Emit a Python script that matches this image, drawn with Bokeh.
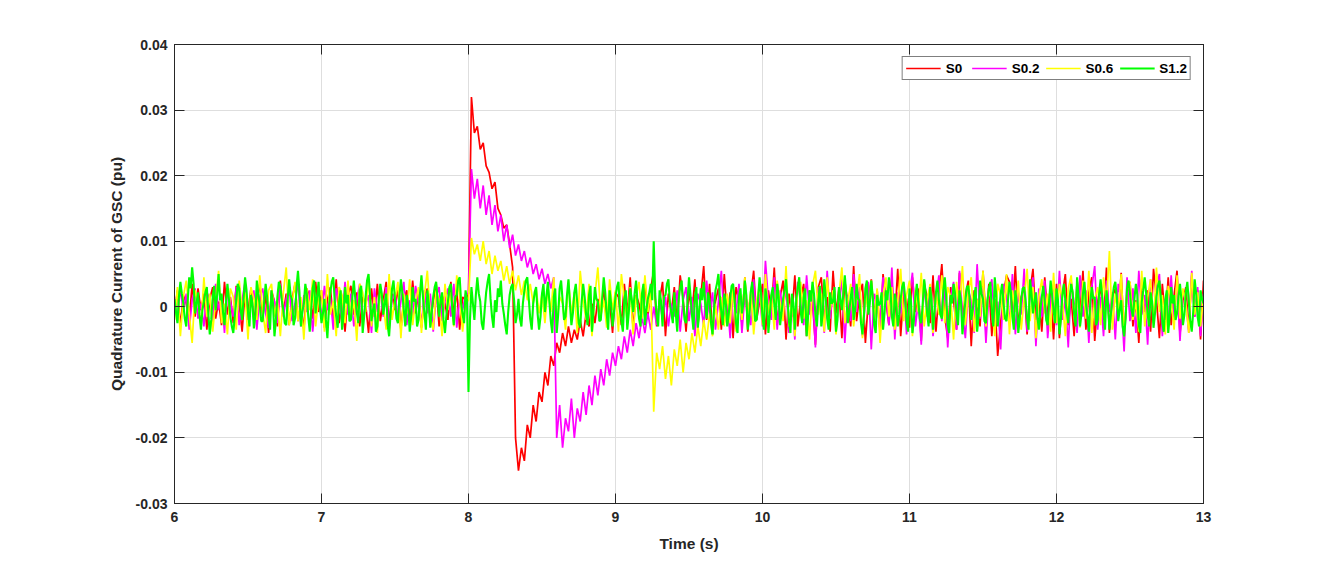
import numpy as np
from bokeh.plotting import figure
from bokeh.models import Range1d, LinearAxis, FixedTicker, Legend, LegendItem, CustomJSTickFormatter
from bokeh.embed import file_html
from bokeh.resources import INLINE

# ---- data (values in units of 1e-4 pu, evenly sampled from 6 s to 13 s) ----
series_names = ["S0", "S0.2", "S0.6", "S1.2"]
series_colors = ["#FF0000", "#FF00FF", "#FFFF00", "#00FF00"]
series_widths = [1.7, 1.7, 1.7, 2.1]

s0 = [
    -10, 25, -30, 18, 5, -22, 35, -15, 28, -5,
    20, -35, 12, 30, -18, 8, -28, 38, -12, 15,
    -25, 32, 5, -38, 22, -8, 28, -20, 10, 35,
    -15, 18, -40, 25, 8, -30, 40, -10, 20, -28,
    12, 35, -22, 5, -35, 28, 15, -18, 38, -8,
    25, -32, 10, 30, -20, 42, -25, 8, -38, 18,
    32, -12, 22, -30, 15, 5, -40, 28, -15, 35,
    -22, 10, 38, -28, 20, -5, 30, -35, 12, 25,
    -18, 40, -10, 22, -32, 15, 28, -25, 8, 35,
    -30, 18, 5, -20, 38, -12, 25, -35, 15, 10,
    20, 320, 265, 275, 240, 250, 215, 205, 180, 190,
    150, 140, 120, 125, 95, 60, -200, -250, -215, -235,
    -180, -200, -150, -175, -130, -145, -100, -120, -75, -90,
    -55, -70, -40, -60, -30, -55, -35, -50, -20, -45,
    -10, -30, 5, -25, 12, -15,
    30, -20, 8, -40, 22, 15, -28, 35, -10, 45,
    -35, 18, 5, -22, 40, -15, 28, 55, -30, 10,
    38, -45, 20, -8, 30, -25, 48, 12, -38, 25,
    -12, 42, -30, 15, 62, -20, 35, -42, 8, 28,
    -35, 50, -15, 22, -48, 30, 10, -25, 45, -38, 18, 55, -20, 8,
    35, -42, 25, -10, 60, -28, 15, 40, -50, 20,
    -15, 48, -30, 12, 35, -45, 25, 8, -58, 30,
    45, -20, 15, -38, 55, -10, 28, -48, 40, 5,
    -30, 62, -22, 18, 35, -55, 10, 42, -15, 25,
    -40, 50, 8, -28, 38, -18, 58, -45, 20, 12,
    -32, 45, -8, 28, -52, 35, 15, -25, 48, -38,
    22, 65, -15, -48, 30, 10, -35, 52, -22, 18,
    40, -60, 25, 8, -30, 55, -18, 35, -45, 12,
    -75, -25, 20, 48, 38, -10, 62, -32, 15, 30,
    -42, 25, 58, -20, 10, -38, 45, -15, 28, -50,
    35, -48, 18, 50, -28, 12, -45, 40, -10, 55,
    -35, 22, 45, -52, 8, 30, -20, 60, -40, 15,
    28, -15, 52, -45, 20, 38, -30, 10, -55, 42,
    -8, 25, -38, 58, 12, -48, 35, -20, 45, -28,
    18, 55, -42, 10, 30, -35, 48, -15, 25, -50, 40,
]

s02 = [
    15, -22, 30, -8, 20, -35, 10, 28, -18, 5,
    -30, 22, 12, -25, 35, -5, 18, -40, 25, 8,
    -15, 30, -28, 10, 38, -20, 5, 25, -35, 15,
    28, -10, -32, 20, 8, -25, 35, -15, 12, 30,
    -22, 5, 40, -30, 18, -8, 25, -38, 10, 22,
    -18, 32, -5, 15, -35, 28, 8, -22, 38, -12,
    20, -30, 10, 35, -25, 5, 18, -40, 28, -8,
    25, -15, 30, -35, 12, 22, -20, 8, 38, -28,
    10, -18, 32, 5, -30, 25, -10, 20, -38, 15,
    30, -22, 8, 28, -15, 35, -32, 12, -5, 20,
    20, 210, 165, 195, 150, 185, 140, 170, 125, 155,
    115, 140, 100, 125, 90, 110, 78, 95, 70, 85,
    60, 75, 50, 65, 42, 58, 35, 50, 28, 45,
    -200, -150, -215, -170, -190, -140, -200, -155, -175, -130,
    -165, -120, -150, -105, -135, -95, -120, -80, -105, -70,
    -90, -60, -80, -45, -70, -35, -60, -25, -48, -15,
    -40, -10, -35, 0, -28, 10, -20, 15, -30, 5, -15,
    25, -38, 10, 30, -22, 15, -45, 20, 5, -30,
    40, -12, 22, -35, 8, 55, -25, 12, -48, 28,
    -10, 35, -40, 18, 5, -28, 42, -15, 20,
    -30, 70, 10, -20, 45, -35, 25, -8, 30, -40,
    15, -50, 38, 5, -28, 48, -12, 22, -62, 30,
    10, -40, 55, -18, 25, -35, 8, 42, -55, 18,
    -22, 50, -8, 30, -45, 12, 38, -65, 20, 5,
    -35, 45, 15, -28, 60, -50, 22, -10, 35, -42,
    18, 52, -30, 8, -58, 40, -15, 25, -45, 12,
    48, -22, 30, -62, 15, 38, -35, 55, -8, -48,
    25, 10, -40, 65, -18, 30, -55, 20, 42, -30,
    8, -65, 35, 15, -25, 50, -42, 22, -12, 58,
    -38, 18, 45, -60, 28, -15, 40, -48, 10, 35,
    -28, 55, -20, 12, -62, 38, 5, -40, 48, -15,
    25, -55, 30, 62, -35, 15, -45, 40, -8, 22,
    -50, 35, 10, -68, 45, -22, 28, -40, 55, -12,
    18, -58, 42, -25, 30, 50, -45, 12, -30, 48,
    -20, 38, -52, 25, 8, -40, 55, -15, 30, -45, 20,
]

s06 = [
    -20, 30, -45, 15, 40, -10, -55, 25, 8, -30,
    45, -15, 20, -38, 10, 55, -25, 5, -42, 28,
    15, -35, 40, -5, 22, -50, 30, 12, -20, 48,
    -8, -40, 25, 35, -15, 10, -45, 20, 60, -28,
    5, 38, -22, 15, -50, 28, -5, 42, -30, 12,
    25, -38, 50, -12, 8, -45, 30, 18, -25, 40,
    -18, 10, -52, 35, 22, -8, 45, -30, 15, -40,
    28, 5, -35, 50, -20, 12, 38, -48, 20, -10,
    42, -28, 8, 30, -40, 18, 55, -15, -35, 25,
    10, -45, 35, -5, 22, -30, 48, 15, -38, 5,
    10, 105, 80, 95, 70, 100, 65, 85, 50, 78,
    55, 70, 40, 62, 35, 55, 25, 48, 18, 40,
    10, 35, 5, 28, -10, 20,
    -25, 30, -8, 45, -30, 15, 5, -35, 40, -12,
    22, -40, 55, 8, -20, 35, -45, 18, 60, -15,
    10, -32, 42, -5, 25, -38, 50, 12, -22, 30,
    -42, 15, 38, -18, 48, -8, 25,
    -160, -70, -95, -60, -110, -75, -120, -65, -90, -50,
    -100, -55, -80, -40, -70, -30, -60, -20, -50, -10,
    -45, 5, -35, 15, -30, 20, -25,
    30, -38, 10, -20, 45, -15, 25, -42, 8, 35,
    -28, 50, -10, 18, -35, 40, 5, -22, 62, -30,
    15, -45, 28, 38, -18, 10, -50, 32, 55, -12,
    20, -38, 45, -5, 25, -42, 18, 60, -25, 8,
    35, -30, 12, 50, -48, 22, -10, 40, -20, 28,
    -55, 15, 45, -15, 30, -35, 8, 58, -22, 18,
    40, -45, 25, -8, 52, -30, 10, 35, -40, 20,
    -12, 48, -25, 30, 15, -50, 38, -5, 62, -28,
    22, 45, -38, 10, -15, 55, -30, 28, 8, -45,
    35, 18, -20, 50, -42, 25, -8, 40, -35, 12,
    58, -22, 30, -48, 15, 42, -10, 20, -38, 52,
    -25, 35, 10, -45, 28, 48, -15, 22, -32, 40,
    -18, 55, -40, 12, 30, -28, 45, 5, 85, -35,
    20, -12, 50, -45, 25, 38, -20, 8, -38, 55,
    -30, 15, 42, -25, 60, -8, 18, -42, 32, 10,
    -35, 48, -18, 28, 5, -40, 52, -12, 22, -30, 15,
]

s12 = [
    12, -8, -25, 15, 38, 20, 5, -18, -30, 10, 45, 28, 60, 35, -10, 5, 22, -12, -35, -5,
    8, 22, 30, -10, -42, -20, 15, 32, -5, 18, 50, 10, 20, -8, -28, 5, 35, 12, -15, -30,
    -40, -15, 10, 35, 28, -5, -20, 12, 45, 25, -8, -30, 18, 5, -33, -12, 40, 20, 2, -22,
    -22, 8, 35, 15, -12, -35, 25, 5, -45, -20, 15, 38, 30, 10, -5, -25, -28, 12, 42, 18,
    10, -28, -18, 30, 55, 22, -30, -8, 5, 35, 20, -15, -38, -5, 28, 40, -10, 15, 38, 0,
    -25, -10, 12, -20, -48, -5, 22, 38, 45, 10, -15, -32, 8, 25, -35, -12, 30, 5, 18, -22,
    -20, 15, 40, 12, -8, -25, 25, 32, -40, -15, 15, 40, 50, 18, -22, -5, 5, -38, -30, 10,
    35, 20, -12, 5, 20, -28, -45, -10, 28, 40, 10, -18, -25, 15, 42, 22, -5, -30, 18, 2,
    -38, -15, 30, 8, 12, -30, -20, 20, 48, 15, -10, -35, 25, 5, -32, -8, 15, 30, 38, 10,
    -15, 10, 22, -20, -40, -12, 8, 30, 35, -5, -28, 15, 18, 40, 45, 5, -12, -25, 25, 10,
    -130, -20,
    30, 5, -20, 18, 45, 20, 8, -25, -35, -5, 22, 38, 50, 12, -15, -32, 10, -8,
    28, 15, 40, 5, -10, -28, -42, -8, 18, 30, 35, 10, -25, -12, 12, -18, -30, 5, 25, 40,
    45, 12, -18, -35, 5, 22, 30, -10, -35, -15, 20, 35, -8, 15, 38, 8, -22, -40, 15, 28,
    -40, -12, 28, 40, 10, -20, -15, 18, 42, 5, -28, -10, 22, 35, 5, -25, -32, 8, 35, 15,
    -12, -28, 18, 32, -38, -5, 30, 12, 8, -22, -20, 15, 45, 22, -10, -35, 25, 5, -30, -8,
    15, 30, 38, -5, -22, -38, 10, 25, -35, -10, 28, 12, -8, 20, 40, 5, -18, -30, 20, 35,
    -28, -5, 12, 22, 35, 10, 100, 20, -15, -30, 25, 8, -30, 15, 18, 35, 42, 5, -10, -25,
    22, -10, -38, 12, 30, 40, 5, -20, -25, 8, 45, 18, -12, -35, 15, 30, -32, -8, 28, 10,
    38, 5, -18, 22, 10, -25, -42, -5, 25, 35, 50, 15, -8, -28, 20, 8, -30, -12, 12, 32,
    35, 10, -25, -40, 15, 28, -10, 5, 40, 18, -35, -15, 22, 38, 8, -22, -20, 12, 45, 20,
    -15, -35, 28, 10, -40, -12, 18, 30, 5, -20, 35, 15, -28, -8, 12, 25, 42, 10, -22, -40,
    20, 5, -35, 12, 30, 45, -8, -25, 15, 28, -45, -15, 25, 8, 38, 20, -12, -30, 10, 32,
    -30, -10, 42, 15, -18, -35, 22, 5, 8, 30, -38, -20, 30, 12, -5, 20, 48, 18, -25, -8,
    15, 30, -20, -5, 35, 12, 10, -25, -42, -15, 28, 40, -12, 5, 40, 15, -28, -40, 18, 2,
    5, 22, -35, -10, 25, 10, 45, 28, -15, -30, 20, 5, -30, -12, 12, 30, 38, 15, -22, -38,
    28, 8, -40, -20, 15, 35, 8, -18, -25, 5, 42, 20, -10, -30, 30, 12, -35, -8, 22, 40,
    10, -12, -18, 25, 45, 15, -28, -40, 18, 5, 35, 20, -12, -28, 25, 10, -42, -15, 8, 30,
    32, 10, -20, -5, 15, 30, -38, -15, 40, 20, 12, -22, -25, 8, 28, 38, -8, -30, 45, 18,
    -30, -8, 20, 35, 5, -18, -22, 10, 38, 22, -15, -35, 25, 5, -40, -18, 12, 28, 30, 8,
    -18, -35, 42, 20, -10, 8, 22, -15, -35, -5, 15, 32, 8, -20, -28, 10, 40, 18, -5, -25,
    28, 10, -42, -18, 18, 35, 10, -8, -25, 15, 35, 22, -12, -30, 45, 15, -30, -10, 20, 38,
    5, -15, -38, 8, 30, 12, 15, -28, -20, 20, 42, 18, -8, -35, 25, 5, -35, -12, 12, 30,
    38, 15, -22, -5, 10, -30, -45, -18, 28, 40, 20, -5, -15, 12, 35, 18, -28, -40, 8, 25,
    45, 20, -12, -30, 22, 8, -32, -10, 15, 32, 40, 12, -25, -38, 10, 25, -40, -15, 30, 5,
    18, -20, -10, 15, 35, 10, -28, -12, 22, 38, 8, -22, -38, -8, 42, 20, -15, -30, 25, 12, 5,
]

x_ticks = [6, 7, 8, 9, 10, 11, 12, 13]
y_ticks = [-0.03, -0.02, -0.01, 0, 0.01, 0.02, 0.03, 0.04]
y_tick_labels = ["-0.03", "-0.02", "-0.01", "0", "0.01", "0.02", "0.03", "0.04"]
x_label = "Time (s)"
y_label = "Quadrature Current of GSC (pu)"

FONT = "Liberation Sans"
AX = "#262626"

p = figure(width=1322, height=559, output_backend="svg", toolbar_location=None,
           x_range=Range1d(6, 13), y_range=Range1d(-0.03, 0.04),
           min_border_left=174, min_border_right=119, min_border_top=44, min_border_bottom=56,
           background_fill_color="white", border_fill_color="white")
p.outline_line_color = AX
p.outline_line_width = 1

renderers = []
for vals, col, lw in zip([s0, s02, s06, s12], series_colors, series_widths):
    t = np.linspace(6, 13, len(vals))
    y = [v / 10000 for v in vals]
    r = p.line(t, y, line_color=col, line_width=lw)
    renderers.append(r)

# main axes
xa = p.xaxis[0]
ya = p.yaxis[0]
xa.ticker = FixedTicker(ticks=x_ticks)
ya.ticker = FixedTicker(ticks=y_ticks)
ya.major_label_overrides = {v: s for v, s in zip(y_ticks, y_tick_labels)}
for ax in (xa, ya):
    ax.axis_line_color = AX
    ax.major_tick_line_color = AX
    ax.major_tick_in = 10
    ax.major_tick_out = 0
    ax.minor_tick_line_color = None
    ax.major_label_text_font = FONT
    ax.major_label_text_font_style = "bold"
    ax.major_label_text_font_size = "14px"
    ax.major_label_text_color = AX
    ax.axis_label_text_font = FONT
    ax.axis_label_text_font_style = "bold"
    ax.axis_label_text_font_size = "15.5px"
    ax.axis_label_text_color = AX
xa.axis_label = x_label
ya.axis_label = y_label
xa.major_label_standoff = 8
xa.axis_label_standoff = 10
ya.major_label_standoff = 7
ya.axis_label_standoff = 8

# box axes (top/right) with inward ticks and no labels
for loc, tk in (("right", y_ticks), ("above", x_ticks)):
    ax2 = LinearAxis(ticker=FixedTicker(ticks=tk), formatter=CustomJSTickFormatter(code="return ''"))
    ax2.axis_line_color = AX
    ax2.major_tick_line_color = AX
    ax2.major_tick_in = 10
    ax2.major_tick_out = 0
    ax2.minor_tick_line_color = None
    ax2.major_label_standoff = 0
    p.add_layout(ax2, loc)

p.xgrid.ticker = FixedTicker(ticks=x_ticks)
p.ygrid.ticker = FixedTicker(ticks=y_ticks)
p.grid.grid_line_color = "#dedede"
p.grid.grid_line_width = 1

legend = Legend(items=[LegendItem(label=n, renderers=[r]) for n, r in zip(series_names, renderers)],
                location="top_right", orientation="horizontal")
legend.margin = 12
legend.padding = 3
legend.spacing = 6
legend.glyph_width = 35
legend.glyph_height = 16
legend.label_height = 16
legend.label_standoff = 5
legend.label_text_font = FONT
legend.label_text_font_style = "bold"
legend.label_text_font_size = "13.5px"
legend.label_text_color = "black"
legend.border_line_color = "black"
legend.border_line_width = 1
legend.background_fill_color = "white"
legend.background_fill_alpha = 1
p.add_layout(legend)

open("out.html", "w").write(file_html(p, INLINE))
